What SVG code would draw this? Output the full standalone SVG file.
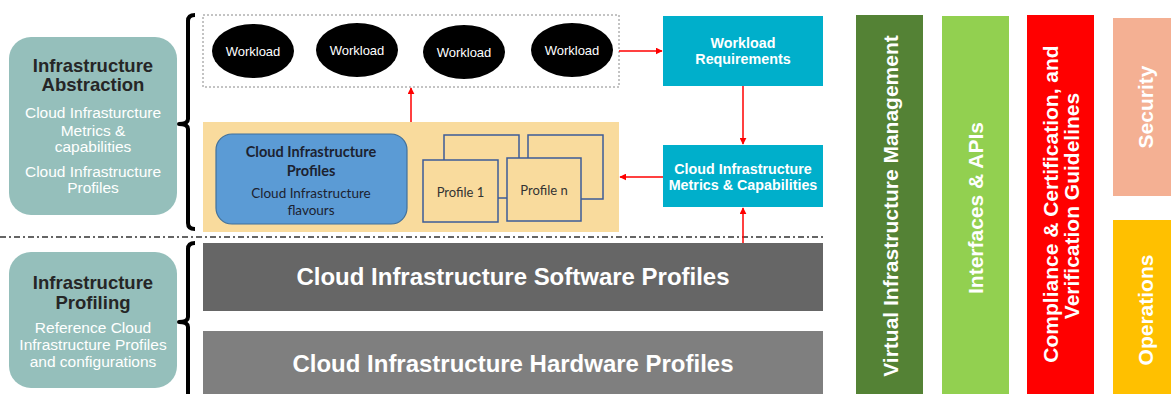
<svg xmlns="http://www.w3.org/2000/svg" width="1171" height="394" viewBox="0 0 1171 394">
  <style>
    .cal { font-family: Lato, "Open Sans", sans-serif; }
    .side { fill: #95BFBB; }
    .side-title { font-family: "Liberation Sans", Arial, sans-serif; font-weight: bold; font-size: 18.5px; fill: #262626; text-anchor: middle; }
    .side-body { font-family: "Liberation Sans", Arial, sans-serif; font-size: 15.5px; fill: #FFFFFF; text-anchor: middle; }
    .brace { fill: none; stroke: #000; stroke-width: 4; stroke-linejoin: round; }
    .wl { fill: #000; }
    .wl-text { font-family: "Liberation Sans", Arial, sans-serif; font-size: 13px; fill: #FFFFFF; text-anchor: middle; }
    .teal { fill: #00AFCB; }
    .teal-text { font-family: "Liberation Sans", Arial, sans-serif; font-weight: bold; font-size: 14.3px; fill: #FFFFFF; text-anchor: middle; }
    .prof { fill: #F9DB9D; stroke: #3D5C98; stroke-width: 1.5; }
    .prof-text { font-family: Lato, "Open Sans", sans-serif; font-size: 13px; fill: #333; text-anchor: middle; }
    .band-text { font-family: "Liberation Sans", Arial, sans-serif; font-weight: bold; font-size: 24px; fill: #FFFFFF; text-anchor: middle; }
    .bar-text { font-family: "Liberation Sans", Arial, sans-serif; font-weight: bold; font-size: 21px; fill: #FFFFFF; text-anchor: middle; }
    .flow { stroke: #FF0000; stroke-width: 1.5; fill: none; marker-end: url(#arrow); }
  </style>
  <defs>
    <marker id="arrow" viewBox="0 0 10 10" refX="9" refY="5" markerWidth="7" markerHeight="7" markerUnits="userSpaceOnUse" orient="auto">
      <path d="M0,0 L10,5 L0,10 z" fill="#FF0000"/>
    </marker>
  </defs>

  <rect width="1171" height="394" fill="#FFFFFF"/>

  <!-- layer labels on the left -->
  <g id="infrastructure-abstraction">
    <rect class="side" x="9" y="37" width="168" height="178" rx="22"/>
    <text class="side-title" x="93" y="72">Infrastructure</text>
    <text class="side-title" x="93" y="91">Abstraction</text>
    <text class="side-body" x="93" y="118">Cloud Infrasturcture</text>
    <text class="side-body" x="93" y="136">Metrics &amp;</text>
    <text class="side-body" x="93" y="152">capabilities</text>
    <text class="side-body" x="93" y="177">Cloud Infrastructure</text>
    <text class="side-body" x="93" y="193">Profiles</text>
  </g>
  <g id="infrastructure-profiling">
    <rect class="side" x="9" y="252" width="168" height="136" rx="22"/>
    <text class="side-title" x="93" y="289">Infrastructure</text>
    <text class="side-title" x="93" y="309">Profiling</text>
    <text class="side-body" x="93" y="333">Reference Cloud</text>
    <text class="side-body" x="93" y="350">Infrastructure Profiles</text>
    <text class="side-body" x="93" y="367">and configurations</text>
  </g>

  <!-- braces grouping each layer -->
  <g id="braces">
    <path class="brace" d="M195 15 Q188 15 188 21 V119 Q188 124 179 124 Q188 124 188 129 V223 Q188 229 195 229"/>
    <path class="brace" d="M195 243 Q188 243 188 249 V317 Q188 322 179 322 Q188 322 188 327 V396"/>
  </g>

  <!-- layer separator -->
  <line x1="0" y1="237" x2="823" y2="237" stroke="#333" stroke-width="1.5" stroke-dasharray="6 3 2 3"/>

  <!-- workloads -->
  <g id="workloads">
    <rect x="203" y="15" width="416" height="72" fill="none" stroke="#888" stroke-width="1" stroke-dasharray="2 2"/>
    <ellipse class="wl" cx="253" cy="51" rx="41" ry="27"/>
    <text class="wl-text" x="253" y="55.5">Workload</text>
    <ellipse class="wl" cx="357" cy="50" rx="41" ry="27"/>
    <text class="wl-text" x="357" y="54.5">Workload</text>
    <ellipse class="wl" cx="464" cy="52" rx="41" ry="27"/>
    <text class="wl-text" x="464" y="56.5">Workload</text>
    <ellipse class="wl" cx="572" cy="50" rx="41" ry="27"/>
    <text class="wl-text" x="572" y="54.5">Workload</text>
  </g>

  <g id="workload-requirements">
    <rect class="teal" x="663" y="16" width="160" height="70"/>
    <text class="teal-text" x="743" y="48">Workload</text>
    <text class="teal-text" x="743" y="64">Requirements</text>
  </g>

  <g id="metrics-capabilities">
    <rect class="teal" x="663" y="145" width="160" height="62"/>
    <text class="teal-text" x="743" y="174">Cloud Infrastructure</text>
    <text class="teal-text" x="743" y="190">Metrics &amp; Capabilities</text>
  </g>

  <!-- profiles area -->
  <g id="profiles-area">
    <rect x="203" y="122" width="416" height="110" fill="#F9DB9D"/>
  </g>
  <g id="cloud-infrastructure-profiles">
    <rect x="216" y="134" width="191" height="90" rx="16" fill="#5B9BD5" stroke="#41719C" stroke-width="1.2"/>
    <text class="cal" x="311" y="157" font-size="14.5" font-weight="bold" fill="#1C2230" text-anchor="middle">Cloud Infrastructure</text>
    <text class="cal" x="311" y="176" font-size="14.5" font-weight="bold" fill="#1C2230" text-anchor="middle">Profiles</text>
    <text class="cal" x="311" y="198" font-size="13.5" fill="#1C2230" text-anchor="middle">Cloud Infrastructure</text>
    <text class="cal" x="311" y="215" font-size="13.5" fill="#1C2230" text-anchor="middle">flavours</text>
  </g>
  <g id="profile-1">
    <rect class="prof" x="444" y="135" width="75" height="63"/>
    <rect class="prof" x="423" y="160" width="75" height="62"/>
    <text class="prof-text" x="460.5" y="196.5">Profile 1</text>
  </g>
  <g id="profile-n">
    <rect class="prof" x="528" y="135" width="75" height="64"/>
    <rect class="prof" x="507" y="158" width="74" height="63"/>
    <text class="prof-text" x="544" y="194.5">Profile n</text>
  </g>

  <!-- profile bands -->
  <g id="software-profiles">
    <rect x="203" y="243" width="620" height="68" fill="#666666"/>
    <text class="band-text" x="513" y="285" textLength="433" lengthAdjust="spacingAndGlyphs">Cloud Infrastructure Software Profiles</text>
  </g>
  <g id="hardware-profiles">
    <rect x="203" y="331" width="620" height="63" fill="#7F7F7F"/>
    <text class="band-text" x="513" y="371.5" textLength="441" lengthAdjust="spacingAndGlyphs">Cloud Infrastructure Hardware Profiles</text>
  </g>

  <!-- cross-cutting columns -->
  <g id="virtual-infrastructure-management">
    <rect x="856" y="15" width="67" height="379" fill="#548235"/>
    <text class="bar-text" transform="translate(897.5 206) rotate(-90)">Virtual Infrastructure Management</text>
  </g>
  <g id="interfaces-apis">
    <rect x="942" y="16" width="67" height="378" fill="#92D050"/>
    <text class="bar-text" transform="translate(982.5 208) rotate(-90)">Interfaces &amp; APIs</text>
  </g>
  <g id="compliance">
    <rect x="1027" y="15" width="67" height="379" fill="#FF0000"/>
    <text class="bar-text" transform="translate(1057.5 204) rotate(-90)">Compliance &amp; Certification, and</text>
    <text class="bar-text" transform="translate(1079 206) rotate(-90)">Verification Guidelines</text>
  </g>
  <g id="security">
    <rect x="1113" y="18" width="58" height="178" fill="#F4B093"/>
    <text class="bar-text" transform="translate(1152.5 107) rotate(-90)">Security</text>
  </g>
  <g id="operations">
    <rect x="1113" y="220" width="58" height="174" fill="#FFC000"/>
    <text class="bar-text" transform="translate(1152.5 310) rotate(-90)">Operations</text>
  </g>

  <!-- connectors -->
  <g id="connectors">
    <line class="flow" x1="619" y1="51" x2="662" y2="51"/>
    <line class="flow" x1="743" y1="86" x2="743" y2="144"/>
    <line class="flow" x1="663" y1="177" x2="620" y2="177"/>
    <line class="flow" x1="411" y1="122" x2="411" y2="88"/>
    <line class="flow" x1="743" y1="243" x2="743" y2="208"/>
  </g>
</svg>
